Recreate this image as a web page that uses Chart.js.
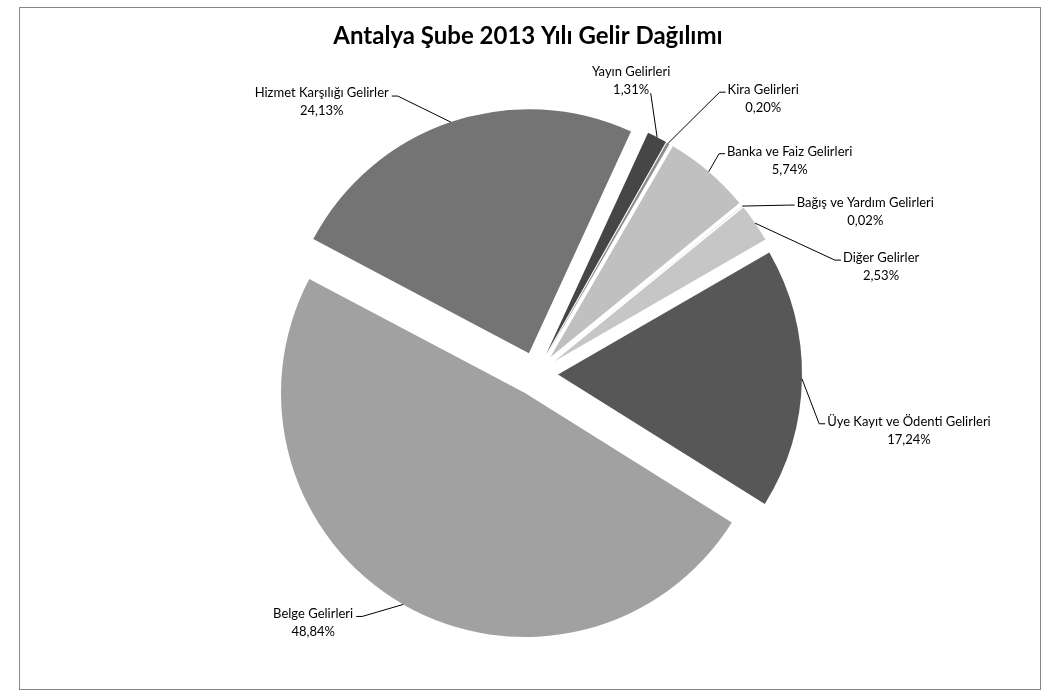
<!DOCTYPE html>
<html>
<head>
<meta charset="utf-8">
<script src="https://cdn.jsdelivr.net/npm/chart.js@4"></script>
<style>
html, body { margin: 0; padding: 0; background: #ffffff; }
#wrap { width: 1056px; height: 696px; position: relative; }
canvas { display: block; }
</style>
</head>
<body>
<div id="wrap"><canvas id="c" width="1056" height="696"></canvas></div>
<script>
// ---- data ----
const chartTitle = 'Antalya Şube 2013 Yılı Gelir Dağılımı';
const categories = [
  'Üye Kayıt ve Ödenti Gelirleri',
  'Belge Gelirleri',
  'Hizmet Karşılığı Gelirler',
  'Yayın Gelirleri',
  'Kira Gelirleri',
  'Banka ve Faiz Gelirleri',
  'Bağış ve Yardım Gelirleri',
  'Diğer Gelirler'
];
const shares = [17.24, 48.84, 24.13, 1.31, 0.20, 5.74, 0.02, 2.53];

// ---- style ----
const sliceColors = ['#575757', '#a1a1a1', '#747474', '#464646', '#8e8e8e', '#c0c0c0', '#bdbdbd', '#c6c6c6'];
const explodePx = 22;
// label block centre relative to the slice's outer mid point, and the side the leader attaches to
const labelOffsets = [
  [107, 52, 'left'],
  [-90, 18, 'right'],
  [-129, -20, 'right'],
  [-26, -56, 'bottom'],
  [95, -44, 'left'],
  [81, -11, 'left'],
  [123, 6, 'left'],
  [126, 44, 'left']
];
const labelFont = '13px Lato';
const lineGap = 18;

const fmtPct = v => v.toFixed(2).replace('.', ',') + '%';

const framePlugin = {
  id: 'frame',
  beforeDraw(chart) {
    const ctx = chart.ctx;
    ctx.save();
    ctx.fillStyle = '#ffffff';
    ctx.fillRect(0, 0, chart.width, chart.height);
    ctx.strokeStyle = '#868686';
    ctx.lineWidth = 1;
    ctx.strokeRect(19.5, 7.5, 1021, 682);
    ctx.fillStyle = '#000000';
    ctx.font = 'bold 24px Lato';
    ctx.textAlign = 'center';
    ctx.textBaseline = 'middle';
    ctx.fillText(chartTitle, 528, 36);
    ctx.restore();
  }
};

const explodePlugin = {
  id: 'explode',
  beforeDatasetsDraw(chart) {
    const ca = chart.chartArea;
    const cx = (ca.left + ca.right) / 2, cy = (ca.top + ca.bottom) / 2;
    chart.getDatasetMeta(0).data.forEach(el => {
      const mid = (el.startAngle + el.endAngle) / 2;
      el.x = cx + explodePx * Math.cos(mid);
      el.y = cy + explodePx * Math.sin(mid);
    });
  }
};

const labelPlugin = {
  id: 'sliceLabels',
  afterDatasetsDraw(chart) {
    const ctx = chart.ctx;
    const meta = chart.getDatasetMeta(0);
    ctx.save();
    ctx.font = labelFont;
    ctx.textAlign = 'center';
    ctx.textBaseline = 'middle';
    meta.data.forEach((el, i) => {
      const mid = (el.startAngle + el.endAngle) / 2;
      const r = el.outerRadius;
      const ax = el.x + r * Math.cos(mid), ay = el.y + r * Math.sin(mid);
      const [dx, dy, side] = labelOffsets[i];
      const lx = ax + dx, ly = ay + dy;
      const l1 = categories[i], l2 = fmtPct(shares[i]);
      const y1 = ly - lineGap / 2, y2 = ly + lineGap / 2;
      const w1 = ctx.measureText(l1).width;
      ctx.fillStyle = '#000000';
      ctx.fillText(l1, lx, y1);
      ctx.fillText(l2, lx, y2);
      ctx.strokeStyle = '#000000';
      ctx.lineWidth = 1;
      ctx.beginPath();
      ctx.moveTo(ax, ay);
      if (side === 'left') {
        const ex = lx - w1 / 2 - 2, ey = y1 + 2;
        ctx.lineTo(ex - 6, ey);
        ctx.lineTo(ex, ey);
      } else if (side === 'right') {
        const ex = lx + w1 / 2 + 3, ey = y1 + 3;
        ctx.lineTo(ex + 6, ey);
        ctx.lineTo(ex, ey);
      } else {
        ctx.lineTo(lx + w1 * 0.25, y2 + 3);
      }
      ctx.stroke();
    });
    ctx.restore();
  }
};

new Chart(document.getElementById('c'), {
  type: 'pie',
  data: {
    labels: categories,
    datasets: [{
      data: shares,
      backgroundColor: sliceColors,
      borderWidth: 0
    }]
  },
  options: {
    responsive: false,
    devicePixelRatio: 1,
    animation: false,
    rotation: 60,
    radius: 244,
    layout: { padding: { left: 16, right: 0, top: 52, bottom: 0 } },
    plugins: {
      legend: { display: false },
      tooltip: { enabled: false },
      title: { display: false }
    }
  },
  plugins: [framePlugin, explodePlugin, labelPlugin]
});
</script>
</body>
</html>
